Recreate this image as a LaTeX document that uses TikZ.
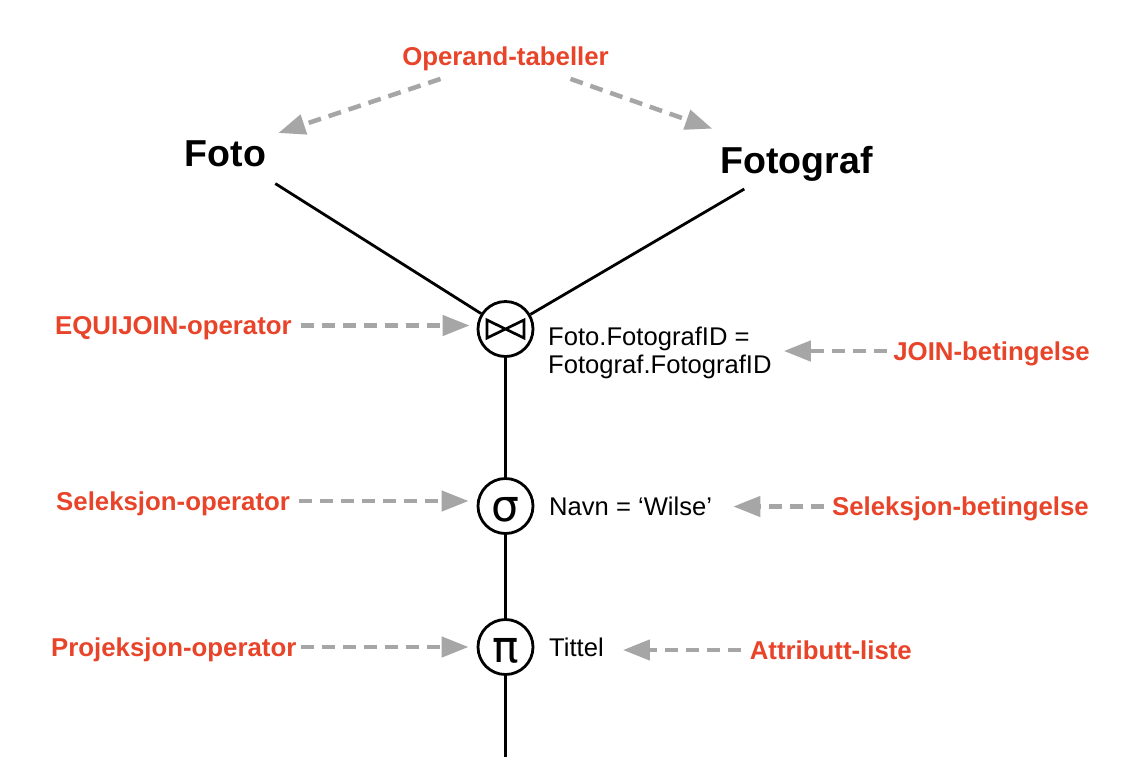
\documentclass[tikz,border=0pt]{standalone}
\usepackage{fontspec}
\setmainfont{Liberation Sans}
\newfontfamily\greekfont{DejaVu Sans}
\usetikzlibrary{arrows.meta,calc}
\definecolor{lblred}{HTML}{E8442A}
\definecolor{arrgray}{HTML}{A6A6A6}
\begin{document}
\begin{tikzpicture}[x=1pt,y=-1pt,
  lbl/.style={text=lblred, font=\bfseries\fontsize{25.8}{28}\selectfont, inner sep=0pt, text height=18.4pt, text depth=0pt},
  tbl/.style={font=\bfseries\fontsize{37.5}{40}\selectfont, inner sep=0pt},
  cond/.style={font=\fontsize{25.6}{28}\selectfont, inner sep=0pt, align=left},
  opnode/.style={circle, draw, line width=2.8pt, minimum size=55pt, inner sep=0pt, font=\greekfont\fontsize{44}{50}\selectfont, text height=30pt, text depth=0pt},
  ptr/.style={draw=arrgray, line width=4.5pt, dash pattern=on 13pt off 8pt, -{Triangle[length=27pt,width=20pt,fill=arrgray]}},
  edge/.style={draw, line width=2.8pt}]
\useasboundingbox (0,0) rectangle (1142,780);
\fill[white] (0,0) rectangle (1142,780);

% tables
\node[tbl, anchor=base] (foto) at (225.5,166) {Foto};
\node[tbl, anchor=base] (fotograf) at (796.5,173) {Fotograf};

% operators
\node[opnode] (join) at (505.5,329) {};
\draw[line width=2.7pt, line join=miter] ($(join.center)+(-18.5,-9)$) -- ($(join.center)+(-18.5,9)$) -- ($(join.center)+(18.5,-9)$) -- ($(join.center)+(18.5,9)$) -- cycle;
\node[opnode] (sigma) at (505.5,506) {σ};
\node[opnode] (pi) at (505.5,647) {π};
\coordinate (out) at (505.5,757);

% conditions
\node[cond, anchor=north west] (cond) at (548,326.5) {Foto.FotografID =\\Fotograf.FotografID};
\node[cond, anchor=base west] (navn) at (549,515) {Navn = ‘Wilse’};
\node[cond, anchor=base west] (tittel) at (549,656) {Tittel};

% edges
\draw[edge] ([xshift=9pt,yshift=-17pt]foto.south east) -- (join);
\draw[edge] ([xshift=24pt,yshift=-16pt]fotograf.base west) -- (join);
\draw[edge] (join) -- (sigma);
\draw[edge] (sigma) -- (pi);
\draw[edge] (pi) -- (out);

% labels
\node[lbl] (operand) at (505.5,56.5) {Operand-tabeller};
\node[lbl, anchor=west] (eqop) at (55,325.5) {EQUIJOIN-operator};
\node[lbl, anchor=west] (selop) at (56,501) {Seleksjon-operator};
\node[lbl, anchor=west] (projop) at (51,647) {Projeksjon-operator};
\node[lbl, anchor=east] (joinbet) at (1090,351) {JOIN-betingelse};
\node[lbl, anchor=east] (selbet) at (1089,506.5) {Seleksjon-betingelse};
\node[lbl, anchor=east] (attr) at (912,650) {Attributt-liste};

% pointer arrows
\draw[ptr] ([xshift=-65pt,yshift=-13pt]operand.south) -- ([xshift=12pt,yshift=7pt]foto.north east);
\draw[ptr] ([xshift=65pt,yshift=-13pt]operand.south) -- ([xshift=-8pt,yshift=17pt]fotograf.north west);
\draw[ptr] ([xshift=9pt]eqop.east) -- ([xshift=-7pt]join.west |- eqop.east);
\draw[ptr] ([xshift=9pt]selop.east) -- ([xshift=-8pt]sigma.west |- selop.east);
\draw[ptr] ([xshift=4pt]projop.east) -- ([xshift=-8pt]pi.west |- projop.east);
\draw[ptr] ([xshift=-6pt]joinbet.west) -- ([xshift=12pt]cond.east |- joinbet.west);
\draw[ptr] ([xshift=-8pt]selbet.west) -- ([xshift=21pt]navn.east |- selbet.west);
\draw[ptr] ([xshift=-9pt]attr.west) -- ([xshift=19pt]tittel.east |- attr.west);
\end{tikzpicture}
\end{document}
